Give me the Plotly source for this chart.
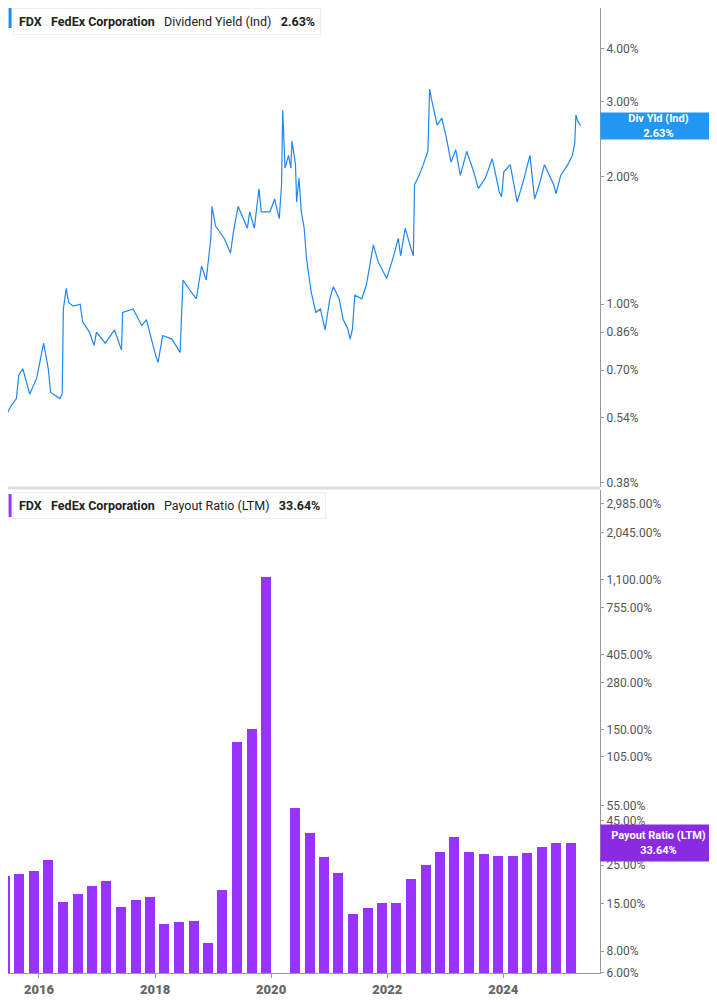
import plotly.graph_objects as go
import pandas as pd
import numpy as np

# dividend yield (%), time as decimal year
yld_t = [2015.33, 2015.41, 2015.44, 2015.53, 2015.61, 2015.65, 2015.72, 2015.84, 2015.96, 2016.04,
         2016.08, 2016.16, 2016.20, 2016.36, 2016.40, 2016.42, 2016.47, 2016.51, 2016.59, 2016.71,
         2016.75, 2016.87, 2016.95, 2016.99, 2017.14, 2017.30, 2017.42, 2017.44, 2017.62, 2017.77,
         2017.85, 2018.01, 2018.05, 2018.13, 2018.29, 2018.43, 2018.46, 2018.48, 2018.64, 2018.71,
         2018.80, 2018.88, 2018.96, 2018.98, 2019.04, 2019.19, 2019.30, 2019.35, 2019.43, 2019.59,
         2019.63, 2019.71, 2019.79, 2019.83, 2019.98, 2020.06, 2020.14, 2020.18, 2020.20, 2020.24,
         2020.30, 2020.34, 2020.36, 2020.42, 2020.44, 2020.48, 2020.52, 2020.57, 2020.61, 2020.69,
         2020.77, 2020.85, 2020.93, 2021.01, 2021.07, 2021.17, 2021.24, 2021.32, 2021.36, 2021.40,
         2021.44, 2021.56, 2021.64, 2021.76, 2021.84, 2021.91, 2021.99, 2022.11, 2022.19, 2022.23,
         2022.31, 2022.39, 2022.45, 2022.47, 2022.55, 2022.62, 2022.70, 2022.73, 2022.76, 2022.86,
         2022.94, 2023.02, 2023.10, 2023.18, 2023.26, 2023.37, 2023.49, 2023.57, 2023.69, 2023.81,
         2023.93, 2023.97, 2024.01, 2024.12, 2024.24, 2024.36, 2024.46, 2024.54, 2024.62, 2024.71,
         2024.87, 2024.91, 2024.99, 2025.11, 2025.19, 2025.23, 2025.25, 2025.28, 2025.33]
yld_v = [0.47, 0.44, 0.55, 0.58, 0.60, 0.68, 0.705, 0.615, 0.67, 0.77,
         0.81, 0.705, 0.62, 0.60, 0.615, 0.975, 1.09, 1.01, 0.99, 1.00,
         0.91, 0.86, 0.80, 0.86, 0.81, 0.87, 0.78, 0.957, 0.975, 0.89,
         0.92, 0.757, 0.73, 0.844, 0.828, 0.77, 0.99, 1.14, 1.06, 1.03,
         1.23, 1.14, 1.43, 1.70, 1.53, 1.43, 1.32, 1.48, 1.70, 1.51,
         1.65, 1.51, 1.87, 1.65, 1.65, 1.77, 1.59, 1.91, 2.86, 2.09,
         2.24, 2.09, 2.42, 2.13, 1.74, 1.98, 1.65, 1.51, 1.28, 1.07,
         0.957, 0.975, 0.87, 1.03, 1.10, 1.03, 0.92, 0.875, 0.828, 0.875,
         1.05, 1.03, 1.11, 1.38, 1.26, 1.21, 1.15, 1.30, 1.43, 1.30,
         1.51, 1.38, 1.30, 1.91, 2.01, 2.13, 2.29, 3.21, 3.05, 2.64,
         2.74, 2.46, 2.16, 2.31, 2.01, 2.29, 2.05, 1.87, 1.98, 2.20,
         1.84, 1.79, 2.05, 2.13, 1.74, 1.98, 2.24, 1.77, 1.91, 2.13,
         1.91, 1.82, 2.01, 2.13, 2.24, 2.39, 2.79, 2.70, 2.63]

# payout ratio (%) by fiscal quarter end
pay_dates = pd.date_range("2015-05-31", "2025-02-28", freq="QE-NOV")
pay_v = [21.8, 22.3, 23.0, 26.8, 15.3, 17.0, 18.9, 20.3, 14.3, 15.8,
         16.4, 11.5, 11.8, 12.0, 8.9, 17.9, 127, 152, 1138, None,
         53, 38.3, 28.0, 22.6, 13.1, 14.1, 15.2, 15.1, 20.9, 25.0,
         29.9, 36.5, 29.8, 28.8, 28.4, 28.4, 29.2, 31.8, 33.6, 33.64]

top_ticks = [5.0, 4.0, 3.0, 2.0, 1.0, 0.86, 0.70, 0.54, 0.38]
bot_ticks = [2985, 2045, 1100, 755, 405, 280, 150, 105, 55, 45, 25, 15, 8, 6]


def to_date(t):
    y = int(t)
    return pd.Timestamp(year=y, month=1, day=1) + pd.Timedelta(days=(t - y) * 365.25)


yld_dates = [to_date(t) for t in yld_t]
pay_dates = list(pay_dates)[:len(pay_v)]

BLUE = "#1E88F0"
PURPLE = "#9933FF"
GRAY = "#555555"
H = 965  # plot area height in px


def py(p):
    # page pixel -> paper y
    return (973 - p) / H


fig = go.Figure()
fig.add_trace(go.Scatter(x=yld_dates, y=yld_v, mode="lines", line=dict(color=BLUE, width=1.2),
                         xaxis="x2", yaxis="y2", showlegend=False))
fig.add_trace(go.Bar(x=pay_dates, y=pay_v, marker=dict(color=PURPLE, line=dict(width=0)),
                     width=63 * 86400000, xaxis="x", yaxis="y", showlegend=False))

xr = ["2015-06-20", "2025-09-01"]
fig.update_layout(
    width=709, height=997,
    margin=dict(l=0, r=117, t=0, b=32),
    plot_bgcolor="white", paper_bgcolor="white",
    font=dict(family="Roboto", color=GRAY, size=12),
    bargap=0,
    xaxis=dict(range=xr, type="date", domain=[0, 1], anchor="y", showgrid=False,
               showline=True, linecolor="#999", ticks="outside", ticklen=4, tickcolor="#999",
               dtick="M24", tick0="2016-01-01", tickformat="%Y",
               tickfont=dict(size=13, color="#666", family="Roboto Black")),
    xaxis2=dict(range=xr, type="date", anchor="y2", matches="x", showticklabels=False,
                showgrid=False, showline=False),
    yaxis=dict(type="log", domain=[0, py(490)], side="right", range=[0.778, 3.555],
               tickvals=bot_ticks, ticktext=[f"{v:,.2f}%" for v in bot_ticks],
               showgrid=False, showline=True, linecolor="#999", ticks="outside", ticklen=3,
               tickcolor="#999", zeroline=False),
    yaxis2=dict(type="log", domain=[py(487), 1], side="right", range=[-0.43, 0.697],
                tickvals=top_ticks, ticktext=[f"{v:.2f}%" for v in top_ticks],
                showgrid=False, showline=True, linecolor="#999", ticks="outside", ticklen=3,
                tickcolor="#999", zeroline=False, anchor="x2"),
    shapes=[
        dict(type="line", xref="paper", yref="paper", x0=0, x1=1, y0=py(488), y1=py(488),
             line=dict(color="#dddddd", width=3)),
        dict(type="rect", xref="paper", yref="paper", x0=0.001, x1=0.006,
             y0=py(28), y1=1, fillcolor=BLUE, line=dict(width=0)),
        dict(type="rect", xref="paper", yref="paper", x0=0.001, x1=0.006,
             y0=py(517), y1=py(494), fillcolor=PURPLE, line=dict(width=0)),
    ],
)

fig.add_annotation(xref="paper", yref="paper", x=0.008, y=1, xanchor="left", yanchor="top",
                   text="<b>FDX</b>   <b>FedEx Corporation</b>   Dividend Yield (Ind)   <b>2.63%</b>",
                   showarrow=False, font=dict(size=12.5, color="#222"), bgcolor="white",
                   bordercolor="#eeeeee", borderwidth=1, borderpad=5)
fig.add_annotation(xref="paper", yref="paper", x=0.008, y=py(492), xanchor="left", yanchor="top",
                   text="<b>FDX</b>   <b>FedEx Corporation</b>   Payout Ratio (LTM)   <b>33.64%</b>",
                   showarrow=False, font=dict(size=12.5, color="#222"), bgcolor="white",
                   bordercolor="#eeeeee", borderwidth=1, borderpad=5)
fig.add_annotation(xref="paper", yref="y2", x=1, y=np.log10(2.63), xanchor="left", yanchor="middle",
                   text="<b>Div Yld (Ind)<br>2.63%</b>", showarrow=False, width=113, height=24,
                   bgcolor="#2196F3", font=dict(color="white", size=11), borderpad=1)
fig.add_annotation(xref="paper", yref="y", x=1, y=np.log10(33.64), xanchor="left", yanchor="middle",
                   text="<b>Payout Ratio (LTM)<br>33.64%</b>", showarrow=False, width=113, height=34,
                   bgcolor="#8A2BE2", font=dict(color="white", size=11), borderpad=1)

fig.write_html("out.html")
